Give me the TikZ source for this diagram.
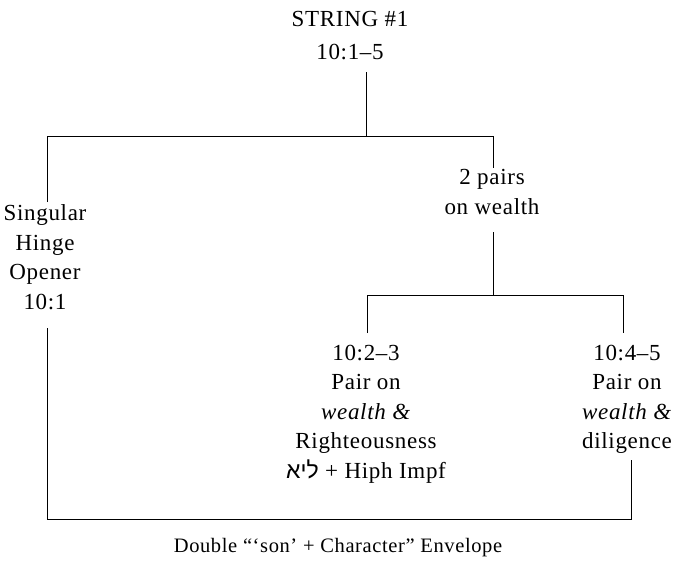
\documentclass[tikz,border=0pt]{standalone}
\usepackage{fontspec}
\setmainfont[LetterSpace=3]{Liberation Serif}
\newfontfamily\hebfont[Script=Hebrew]{Liberation Sans}
\TeXXeTstate=1
\begin{document}
\begin{tikzpicture}[x=1pt,y=-1pt,
  lbl/.style={align=center,inner sep=0pt,anchor=north,
    font={\fontsize{23}{29.5}\selectfont}},
  ln/.style={line width=1pt,black}]
\useasboundingbox (0,0) rectangle (675,562);
\node[lbl,font={\fontsize{23}{32.5}\selectfont}] (top) at (350,11.5) {STRING \#1\\10:1--5};
\node[lbl] (sing) at (45,204.5) {Singular\\Hinge\\Opener\\10:1};
\node[lbl] (pairs) at (492,169.5) {2 pairs\\on wealth};
\node[lbl] (p23) at (366,344.5) {10:2--3\\Pair on\\\textit{wealth \&}\\Righteousness\\{\hebfont\beginR ליא\endR} + Hiph Impf};
\node[lbl] (p45) at (627,344.5) {10:4--5\\Pair on\\\textit{wealth \&}\\diligence};
\node[lbl,anchor=base,font={\fontsize{20.5}{24}\selectfont}] (env) at (338,552) {Double “‘son’ + Character” Envelope};
\coordinate (j1) at (366,136);
\coordinate (jl) at (47,136);
\coordinate (jr) at (493,136);
\coordinate (j2) at (493,295);
\coordinate (jl2) at (367,295);
\coordinate (jr2) at (623,295);
\coordinate (bl) at (47,519);
\coordinate (br) at (631,519);
\draw[ln] (j1 |- 0,72) -- (j1);
\draw[ln] (jl |- 0,202) -- (jl) -- (jr) -- (jr |- 0,168);
\draw[ln] (j2 |- 0,232) -- (j2);
\draw[ln] (jl2 |- 0,333) -- (jl2) -- (jr2) -- (jr2 |- 0,333);
\draw[ln] (bl |- 0,328) -- (bl) -- (br) -- (br |- 0,460);
\end{tikzpicture}
\end{document}
